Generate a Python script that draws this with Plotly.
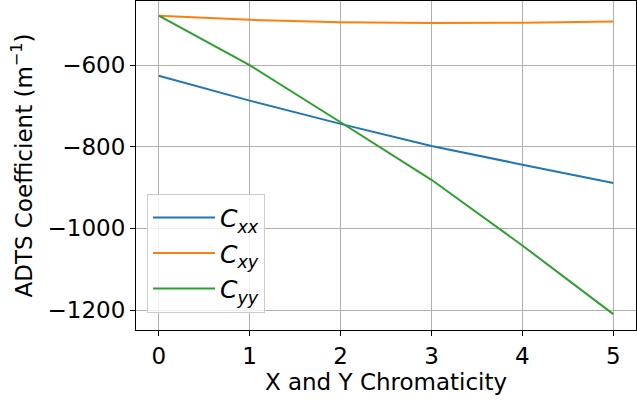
import plotly.graph_objects as go

chromaticity = [0, 1, 2, 3, 4, 5]
c_xx = [-626, -687, -744, -798, -844, -889]
c_xy = [-479, -489, -495, -497, -496, -493]
c_yy = [-479, -600, -740, -881, -1042, -1210]

series = [
    ("<i>C<sub>xx</sub></i>", c_xx, "#1f77b4"),
    ("<i>C<sub>xy</sub></i>", c_xy, "#ff7f0e"),
    ("<i>C<sub>yy</sub></i>", c_yy, "#2ca02c"),
]

fig = go.Figure()
for name, vals, color in series:
    fig.add_trace(go.Scatter(x=chromaticity, y=vals, mode="lines", name=name,
                             line=dict(color=color, width=2)))

axis_common = dict(
    showline=True, linecolor="black", linewidth=1, mirror=True,
    showgrid=True, gridcolor="#b0b0b0", gridwidth=0.8,
    ticks="outside", ticklen=5, tickcolor="black", tickwidth=1,
    zeroline=False, automargin=False,
    tickfont=dict(family="DejaVu Sans", size=23, color="black"),
    title_font=dict(family="DejaVu Sans", size=23, color="black"),
)

fig.update_layout(
    width=637, height=403,
    margin=dict(l=136, r=1, t=1, b=73, autoexpand=False),
    plot_bgcolor="white", paper_bgcolor="white",
    font=dict(family="DejaVu Sans", size=23, color="black"),
    xaxis=dict(range=[-0.25, 5.25], tickvals=chromaticity,
               title=dict(text="X and Y Chromaticity", standoff=2), **axis_common),
    yaxis=dict(range=[-1249, -443], tickvals=[-1200, -1000, -800, -600],
               ticktext=["\u22121200", "\u22121000", "\u2212800", "\u2212600"],
               title=dict(text="ADTS Coefficient (m<sup>\u22121</sup>)", standoff=8), **axis_common),
    legend=dict(x=0.022, y=0.414, xanchor="left", yanchor="top",
                bgcolor="rgba(255,255,255,0.8)", bordercolor="#cccccc", borderwidth=1,
                font=dict(family="DejaVu Sans", size=25, color="black"),
                itemwidth=62, tracegroupgap=4),
    showlegend=True,
)

fig.write_html("out.html", config={"displayModeBar": False},
               post_script="document.body.style.margin='0';document.body.style.padding='0';")
